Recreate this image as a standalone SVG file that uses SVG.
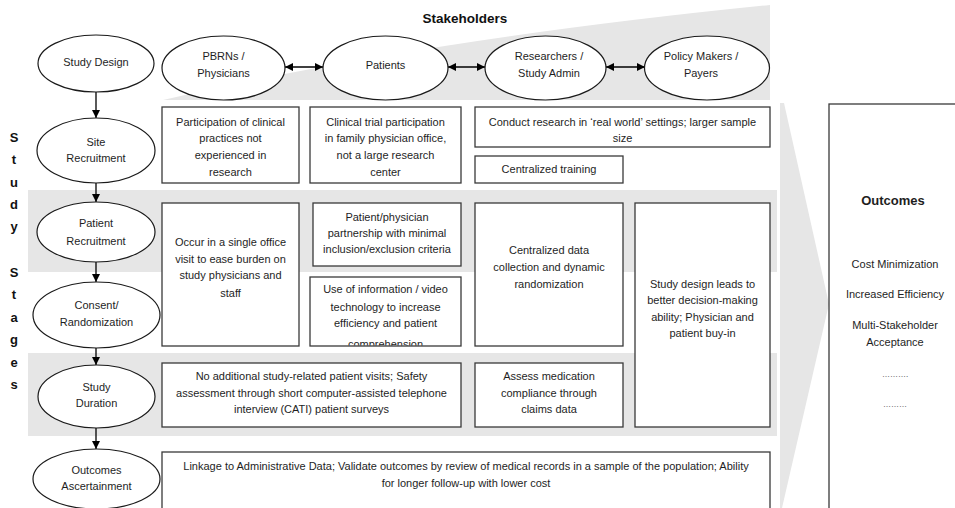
<svg xmlns="http://www.w3.org/2000/svg" width="955" height="508" viewBox="0 0 955 508">
<style>
text{font-family:"Liberation Sans",Arial,sans-serif;font-size:11px;fill:#1e1e1e;text-anchor:middle}
.b{font-weight:bold}
.h{font-size:13.5px;font-weight:bold;fill:#111}
.ss{font-size:13px;font-weight:bold;fill:#111}
.gray{fill:#e6e6e6}
.box{fill:#fff;stroke:#3a3a3a;stroke-width:1.3}
.ell{fill:#fff;stroke:#1a1a1a;stroke-width:1.2}
.con{stroke:#000;stroke-width:1.3;fill:none}
</style>
<defs>
<marker id="ah" markerUnits="userSpaceOnUse" markerWidth="9" markerHeight="8" refX="8" refY="4" orient="auto-start-reverse"><path d="M0,0 L8,4 L0,8 Z" fill="#000"/></marker>
<clipPath id="clipG"><rect x="310" y="277" width="151" height="68.5"/></clipPath>
</defs>
<rect width="955" height="508" fill="#fff"/>

<g id="background">
<path class="gray" d="M163,100 Q420,40 770,5 L770,100 Z"/>
<rect class="gray" x="28" y="190" width="749" height="82"/>
<rect class="gray" x="28" y="353" width="749" height="83"/>
<polygon class="gray" points="780,103 784,103 829,304 782,508 780,508"/>
</g>

<text class="h" x="465" y="23">Stakeholders</text>

<g id="study-stages-label">
<text class="ss" x="14" y="142">S</text>
<text class="ss" x="14" y="164">t</text>
<text class="ss" x="14" y="187">u</text>
<text class="ss" x="14" y="209">d</text>
<text class="ss" x="14" y="231">y</text>
<text class="ss" x="14" y="277">S</text>
<text class="ss" x="14" y="299">t</text>
<text class="ss" x="14" y="322">a</text>
<text class="ss" x="14" y="344">g</text>
<text class="ss" x="14" y="367">e</text>
<text class="ss" x="14" y="389">s</text>
</g>

<g id="connectors">
<line class="con" x1="96" y1="92" x2="96" y2="118" marker-end="url(#ah)"/>
<line class="con" x1="96" y1="183" x2="96" y2="202" marker-end="url(#ah)"/>
<line class="con" x1="96" y1="262" x2="96" y2="282" marker-end="url(#ah)"/>
<line class="con" x1="96" y1="348" x2="96" y2="365" marker-end="url(#ah)"/>
<line class="con" x1="96" y1="428" x2="96" y2="449" marker-end="url(#ah)"/>
<line class="con" x1="285" y1="67" x2="323" y2="67" marker-start="url(#ah)" marker-end="url(#ah)"/>
<line class="con" x1="448" y1="67" x2="485" y2="67" marker-start="url(#ah)" marker-end="url(#ah)"/>
<line class="con" x1="606" y1="67" x2="645" y2="67" marker-start="url(#ah)" marker-end="url(#ah)"/>
</g>

<g id="study-design">
<ellipse class="ell" cx="96" cy="63.5" rx="58" ry="28.5"/>
<text x="96" y="66">Study Design</text>
</g>
<g id="pbrns">
<ellipse class="ell" cx="223.5" cy="68" rx="61.5" ry="32"/>
<text x="223.5" y="60">PBRNs /</text>
<text x="223.5" y="77">Physicians</text>
</g>
<g id="patients">
<ellipse class="ell" cx="385.5" cy="68" rx="62.5" ry="32"/>
<text x="385.5" y="69">Patients</text>
</g>
<g id="researchers">
<ellipse class="ell" cx="545.5" cy="68" rx="60.5" ry="32"/>
<text x="549" y="60">Researchers /</text>
<text x="549" y="77">Study Admin</text>
</g>
<g id="policy-makers">
<ellipse class="ell" cx="707" cy="68" rx="62.5" ry="32"/>
<text x="701" y="60">Policy Makers /</text>
<text x="701" y="77">Payers</text>
</g>

<g id="site-recruitment">
<ellipse class="ell" cx="96" cy="150.5" rx="59" ry="32.5"/>
<text x="96" y="146">Site</text>
<text x="96" y="162">Recruitment</text>
</g>
<g id="patient-recruitment">
<ellipse class="ell" cx="96" cy="232" rx="59" ry="30"/>
<text x="96" y="227">Patient</text>
<text x="96" y="245">Recruitment</text>
</g>
<g id="consent-randomization">
<ellipse class="ell" cx="96.5" cy="315" rx="63.5" ry="33"/>
<text x="96.5" y="309">Consent/</text>
<text x="96.5" y="326">Randomization</text>
</g>
<g id="study-duration">
<ellipse class="ell" cx="96.5" cy="396.5" rx="58.5" ry="31.5"/>
<text x="96.5" y="391">Study</text>
<text x="96.5" y="407">Duration</text>
</g>
<g id="outcomes-ascertainment">
<ellipse class="ell" cx="96.5" cy="479" rx="63.5" ry="30"/>
<text x="96.5" y="474">Outcomes</text>
<text x="96.5" y="490">Ascertainment</text>
</g>

<g id="box-participation">
<rect class="box" x="162" y="107" width="137" height="76"/>
<text x="230.5" y="125.5">Participation of clinical</text>
<text x="230.5" y="142">practices not</text>
<text x="230.5" y="159">experienced in</text>
<text x="230.5" y="176">research</text>
</g>
<g id="box-clinical-trial">
<rect class="box" x="310" y="107" width="151" height="76"/>
<text x="385.5" y="125.5">Clinical trial participation</text>
<text x="385.5" y="142">in family physician office,</text>
<text x="385.5" y="159">not a large research</text>
<text x="385.5" y="176">center</text>
</g>
<g id="box-real-world">
<rect class="box" x="475" y="107" width="295" height="40"/>
<text x="622.5" y="126">Conduct research in ‘real world’ settings; larger sample</text>
<text x="622.5" y="142">size</text>
</g>
<g id="box-training">
<rect class="box" x="475" y="156" width="148" height="27"/>
<text x="549" y="173">Centralized training</text>
</g>

<g id="box-single-office">
<rect class="box" x="162" y="203" width="137" height="143"/>
<text x="230.5" y="246">Occur in a single office</text>
<text x="230.5" y="263">visit to ease burden on</text>
<text x="230.5" y="279">study physicians and</text>
<text x="230.5" y="297">staff</text>
</g>
<g id="box-partnership">
<rect class="box" x="313" y="203" width="148" height="63"/>
<text x="387" y="221">Patient/physician</text>
<text x="387" y="237">partnership with minimal</text>
<text x="387" y="253">inclusion/exclusion criteria</text>
</g>
<g id="box-information">
<rect class="box" x="310" y="277" width="151" height="69"/>
<g clip-path="url(#clipG)">
<text x="385.5" y="293">Use of information / video</text>
<text x="385.5" y="311">technology to increase</text>
<text x="385.5" y="327">efficiency and patient</text>
<text x="385.5" y="348">comprehension</text>
</g>
</g>
<g id="box-centralized-data">
<rect class="box" x="475" y="203" width="148" height="143"/>
<text x="549" y="254">Centralized data</text>
<text x="549" y="271">collection and dynamic</text>
<text x="549" y="288">randomization</text>
</g>
<g id="box-study-design-leads">
<rect class="box" x="635" y="203" width="135" height="224"/>
<text x="702.5" y="288">Study design leads to</text>
<text x="702.5" y="304">better decision-making</text>
<text x="702.5" y="321">ability; Physician and</text>
<text x="702.5" y="337">patient buy-in</text>
</g>

<g id="box-no-additional">
<rect class="box" x="162" y="363" width="299" height="64"/>
<text x="311.5" y="380">No additional study-related patient visits; Safety</text>
<text x="311.5" y="397">assessment through short computer-assisted telephone</text>
<text x="311.5" y="413">interview (CATI) patient surveys</text>
</g>
<g id="box-medication">
<rect class="box" x="475" y="363" width="148" height="64"/>
<text x="549" y="380">Assess medication</text>
<text x="549" y="397">compliance through</text>
<text x="549" y="413">claims data</text>
</g>

<g id="box-linkage">
<rect class="box" x="162" y="452" width="608" height="70"/>
<text x="466" y="470">Linkage to Administrative Data; Validate outcomes by review of medical records in a sample of the population; Ability</text>
<text x="466" y="487">for longer follow-up with lower cost</text>
</g>

<g id="outcomes">
<rect class="box" x="829" y="104" width="160" height="420"/>
<text class="b" x="893" y="205" style="font-size:13px">Outcomes</text>
<text x="895" y="268">Cost Minimization</text>
<text x="895" y="298">Increased Efficiency</text>
<text x="895" y="329">Multi-Stakeholder</text>
<text x="895" y="346">Acceptance</text>
<text x="895" y="377" style="font-size:8px">……….</text>
<text x="895" y="407" style="font-size:8px">………</text>
</g>
</svg>
